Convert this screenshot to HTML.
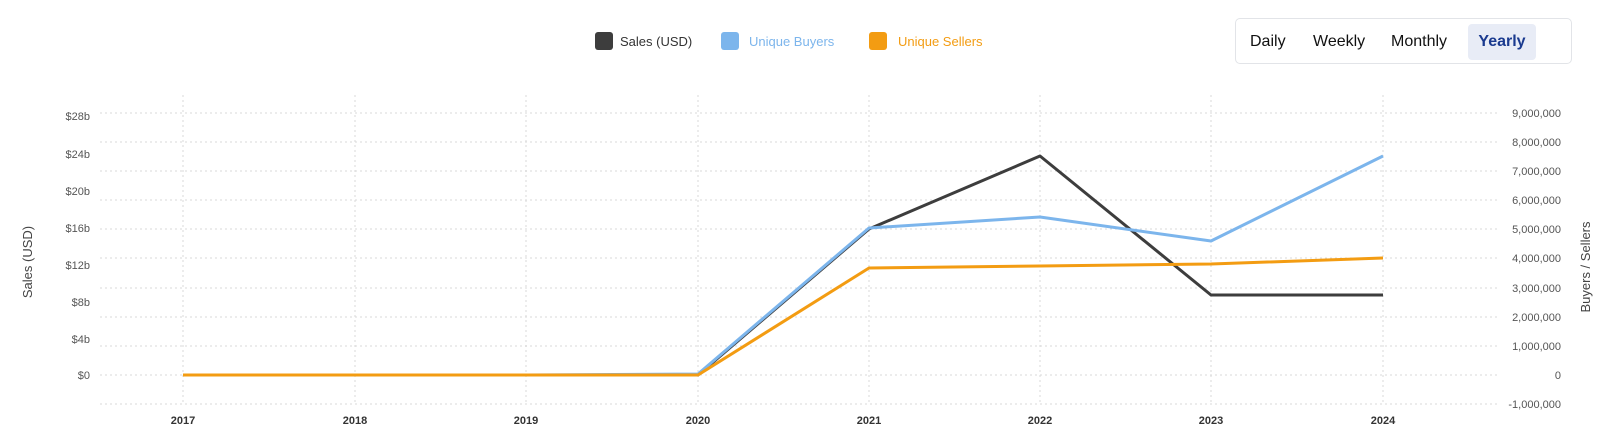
<!DOCTYPE html>
<html><head><meta charset="utf-8"><style>
body{margin:0;width:1600px;height:441px;background:#fff;font-family:"Liberation Sans",sans-serif;overflow:hidden;position:relative}
.btns{position:absolute;left:1235px;top:18px;width:337px;height:46px;border:1px solid #e2e4e8;border-radius:5px;box-sizing:border-box}
.b{position:absolute;top:5px;height:36px;line-height:36px;font-size:16px;color:#111}
</style></head><body>
<div class="btns">
<span class="b" style="left:14px">Daily</span>
<span class="b" style="left:77px">Weekly</span>
<span class="b" style="left:155px">Monthly</span>
<span class="b" style="left:232px;width:68px;background:#e8ecf6;border-radius:4px;color:#1a3a8f;font-weight:bold;text-align:center">Yearly</span>
</div>
<svg width="1600" height="441" style="position:absolute;left:0;top:0" font-family="Liberation Sans, sans-serif">
<g>
<rect x="595" y="32" width="18" height="18" rx="3" fill="#3d3d3d"/><text x="620" y="46" font-size="13" fill="#333">Sales (USD)</text>
<rect x="721" y="32" width="18" height="18" rx="3" fill="#7cb5ec"/><text x="749" y="46" font-size="13" fill="#7cb5ec">Unique Buyers</text>
<rect x="869" y="32" width="18" height="18" rx="3" fill="#f39c12"/><text x="898" y="46" font-size="13" fill="#f39c12">Unique Sellers</text>
</g>
<g stroke="#d8d8d8" stroke-dasharray="2,3" stroke-width="1">
<line x1="100" x2="1498" y1="113" y2="113"/><line x1="100" x2="1498" y1="142" y2="142"/><line x1="100" x2="1498" y1="171" y2="171"/><line x1="100" x2="1498" y1="200" y2="200"/><line x1="100" x2="1498" y1="229" y2="229"/><line x1="100" x2="1498" y1="258" y2="258"/><line x1="100" x2="1498" y1="288" y2="288"/><line x1="100" x2="1498" y1="317" y2="317"/><line x1="100" x2="1498" y1="346" y2="346"/><line x1="100" x2="1498" y1="375" y2="375"/><line x1="100" x2="1498" y1="404" y2="404"/>
<line x1="183" x2="183" y1="95" y2="404"/><line x1="355" x2="355" y1="95" y2="404"/><line x1="526" x2="526" y1="95" y2="404"/><line x1="698" x2="698" y1="95" y2="404"/><line x1="869" x2="869" y1="95" y2="404"/><line x1="1040" x2="1040" y1="95" y2="404"/><line x1="1211" x2="1211" y1="95" y2="404"/><line x1="1383" x2="1383" y1="95" y2="404"/>
</g>
<g font-size="11" fill="#555" text-anchor="end">
<text x="90" y="120">$28b</text><text x="90" y="158">$24b</text><text x="90" y="195">$20b</text><text x="90" y="232">$16b</text><text x="90" y="269">$12b</text><text x="90" y="306">$8b</text><text x="90" y="343">$4b</text><text x="90" y="379">$0</text>
<text x="1561" y="117">9,000,000</text><text x="1561" y="146">8,000,000</text><text x="1561" y="175">7,000,000</text><text x="1561" y="204">6,000,000</text><text x="1561" y="233">5,000,000</text><text x="1561" y="262">4,000,000</text><text x="1561" y="292">3,000,000</text><text x="1561" y="321">2,000,000</text><text x="1561" y="350">1,000,000</text><text x="1561" y="379">0</text><text x="1561" y="408">-1,000,000</text>
</g>
<g font-size="11" fill="#333" font-weight="bold" text-anchor="middle">
<text x="183" y="424">2017</text><text x="355" y="424">2018</text><text x="526" y="424">2019</text><text x="698" y="424">2020</text><text x="869" y="424">2021</text><text x="1040" y="424">2022</text><text x="1211" y="424">2023</text><text x="1383" y="424">2024</text>
</g>
<text transform="translate(32,262) rotate(-90)" font-size="13" fill="#444" text-anchor="middle">Sales (USD)</text>
<text transform="translate(1590,267) rotate(-90)" font-size="13" fill="#444" text-anchor="middle">Buyers / Sellers</text>
<g fill="none" stroke-width="3" stroke-linejoin="round">
<polyline stroke="#3d3d3d" points="183,375 355,375 526,375 698,375 869,229 1040,156 1211,295 1383,295"/>
<polyline stroke="#7cb5ec" points="183,375 355,375 526,375 698,374 869,228 1040,217 1211,241 1383,156"/>
<polyline stroke="#f39c12" points="183,375 355,375 526,375 698,375 869,268 1040,266 1211,264 1383,258"/>
</g>
</svg>
</body></html>
